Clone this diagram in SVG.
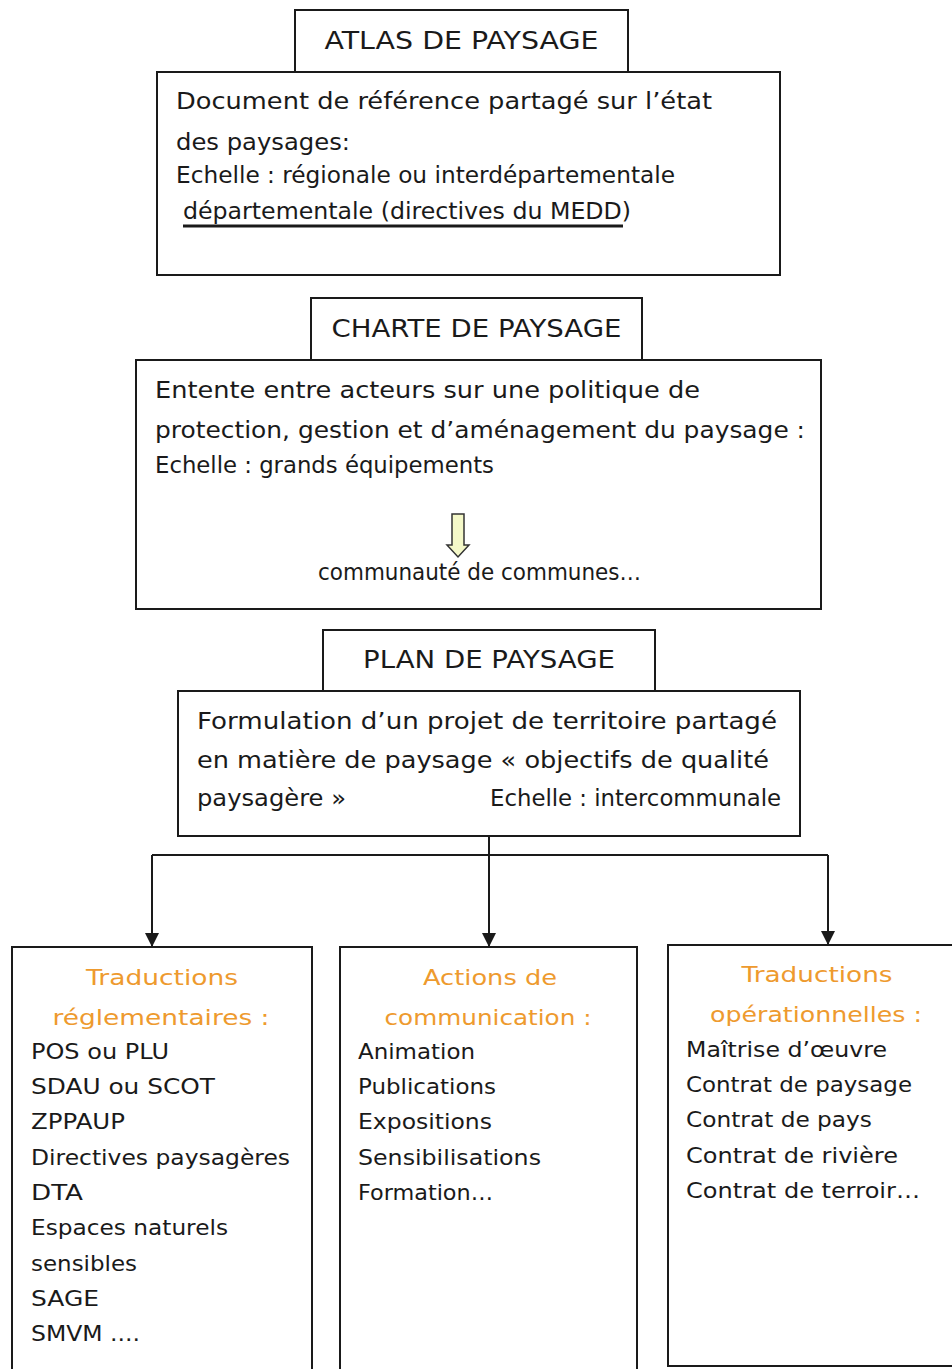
<svg xmlns="http://www.w3.org/2000/svg" width="952" height="1369" viewBox="0 0 952 1369">
<style>
.box{fill:#fff;stroke:#1a1a1a;stroke-width:2}
.t{font-family:"DejaVu Sans","Open Sans",sans-serif;fill:#1a1a1a}
.title{font-size:24px}
.body{font-size:23px}
.cond{font-family:"DejaVu Sans Condensed","DejaVu Sans",sans-serif;font-size:23px;fill:#1a1a1a}
.item{font-size:22px}
.head{font-size:22px;fill:#EE9A2E}
.conn{stroke:#1a1a1a;stroke-width:2;fill:none}
</style>
<defs>
<marker id="ah" viewBox="0 0 10 10" refX="10" refY="5" markerWidth="8" markerHeight="8" markerUnits="userSpaceOnUse" orient="auto">
<path d="M0,0 L10,5 L0,10 z" fill="#1a1a1a"/>
</marker>
<marker id="ah2" viewBox="0 0 14 14" refX="14" refY="7" markerWidth="14" markerHeight="14" markerUnits="userSpaceOnUse" orient="auto">
<path d="M0,0 L14,7 L0,14 z" fill="#1a1a1a"/>
</marker>
</defs>
<rect width="952" height="1369" fill="#fff"/>

<g id="atlas">
<rect class="box" x="157" y="72" width="623" height="203"/>
<rect class="box" x="295" y="10" width="333" height="62"/>
<text class="t title" x="461.5" y="49" text-anchor="middle" textLength="274" lengthAdjust="spacingAndGlyphs">ATLAS DE PAYSAGE</text>
<text class="t body" x="176" y="109" textLength="536" lengthAdjust="spacingAndGlyphs">Document de référence partagé sur l’état</text>
<text class="t body" x="176" y="150" textLength="174" lengthAdjust="spacingAndGlyphs">des paysages:</text>
<text class="cond" x="176" y="183" textLength="499" lengthAdjust="spacingAndGlyphs">Echelle : régionale ou interdépartementale</text>
<text class="cond" x="183" y="219" textLength="448" lengthAdjust="spacingAndGlyphs">départementale (directives du MEDD)</text>
<line x1="183" y1="226" x2="623" y2="226" stroke="#1a1a1a" stroke-width="3"/>
</g>

<g id="charte">
<rect class="box" x="136" y="360" width="685" height="249"/>
<rect class="box" x="311" y="298" width="331" height="62"/>
<text class="t title" x="476.5" y="337" text-anchor="middle" textLength="290" lengthAdjust="spacingAndGlyphs">CHARTE DE PAYSAGE</text>
<text class="t body" x="155" y="398" textLength="545" lengthAdjust="spacingAndGlyphs">Entente entre acteurs sur une politique de</text>
<text class="t body" x="155" y="438" textLength="650" lengthAdjust="spacingAndGlyphs">protection, gestion et d’aménagement du paysage :</text>
<text class="cond" x="155" y="473" textLength="339" lengthAdjust="spacingAndGlyphs">Echelle : grands équipements</text>
<path d="M452,514 L464,514 L464,545 L469,545 L458,557 L447,545 L452,545 Z" fill="#F4F8C8" stroke="#333" stroke-width="1.5"/>
<text class="cond" x="318" y="580" textLength="323" lengthAdjust="spacingAndGlyphs">communauté de communes…</text>
</g>

<g id="plan">
<rect class="box" x="178" y="691" width="622" height="145"/>
<rect class="box" x="323" y="630" width="332" height="61"/>
<text class="t title" x="489" y="668" text-anchor="middle" textLength="252" lengthAdjust="spacingAndGlyphs">PLAN DE PAYSAGE</text>
<text class="t body" x="197" y="729" textLength="580" lengthAdjust="spacingAndGlyphs">Formulation d’un projet de territoire partagé</text>
<text class="t body" x="197" y="768" textLength="572" lengthAdjust="spacingAndGlyphs">en matière de paysage « objectifs de qualité</text>
<text class="t body" x="197" y="806" textLength="149" lengthAdjust="spacingAndGlyphs">paysagère »</text>
<text class="cond" x="490" y="806" textLength="291" lengthAdjust="spacingAndGlyphs">Echelle : intercommunale</text>
</g>

<g id="connectors">
<line class="conn" x1="489" y1="836" x2="489" y2="855"/>
<line class="conn" x1="152" y1="855" x2="828" y2="855"/>
<line class="conn" x1="152" y1="855" x2="152" y2="947" marker-end="url(#ah2)"/>
<line class="conn" x1="489" y1="855" x2="489" y2="947" marker-end="url(#ah2)"/>
<line class="conn" x1="828" y1="855" x2="828" y2="945" marker-end="url(#ah2)"/>
</g>

<g id="reglementaires">
<path class="box" d="M12,1370 L12,947 L312,947 L312,1370"/>
<text class="t head" x="162" y="985" text-anchor="middle" textLength="152" lengthAdjust="spacingAndGlyphs">Traductions</text>
<text class="t head" x="161" y="1025" text-anchor="middle" textLength="217" lengthAdjust="spacingAndGlyphs">réglementaires  :</text>
<text class="t item" x="31" y="1059" textLength="138" lengthAdjust="spacingAndGlyphs">POS ou PLU</text>
<text class="t item" x="31" y="1094" textLength="184" lengthAdjust="spacingAndGlyphs">SDAU ou SCOT</text>
<text class="t item" x="31" y="1129" textLength="94" lengthAdjust="spacingAndGlyphs">ZPPAUP</text>
<text class="t item" x="31" y="1165" textLength="259" lengthAdjust="spacingAndGlyphs">Directives paysagères</text>
<text class="t item" x="31" y="1200" textLength="52" lengthAdjust="spacingAndGlyphs">DTA</text>
<text class="t item" x="31" y="1235" textLength="197" lengthAdjust="spacingAndGlyphs">Espaces naturels</text>
<text class="t item" x="31" y="1271" textLength="106" lengthAdjust="spacingAndGlyphs">sensibles</text>
<text class="t item" x="31" y="1306" textLength="68" lengthAdjust="spacingAndGlyphs">SAGE</text>
<text class="t item" x="31" y="1341" textLength="109" lengthAdjust="spacingAndGlyphs">SMVM ....</text>
</g>

<g id="communication">
<path class="box" d="M340,1370 L340,947 L637,947 L637,1370"/>
<text class="t head" x="490" y="985" text-anchor="middle" textLength="134" lengthAdjust="spacingAndGlyphs">Actions de</text>
<text class="t head" x="488" y="1025" text-anchor="middle" textLength="207" lengthAdjust="spacingAndGlyphs">communication  :</text>
<text class="t item" x="358" y="1059" textLength="117" lengthAdjust="spacingAndGlyphs">Animation</text>
<text class="t item" x="358" y="1094" textLength="138" lengthAdjust="spacingAndGlyphs">Publications</text>
<text class="t item" x="358" y="1129" textLength="134" lengthAdjust="spacingAndGlyphs">Expositions</text>
<text class="t item" x="358" y="1165" textLength="183" lengthAdjust="spacingAndGlyphs">Sensibilisations</text>
<text class="t item" x="358" y="1200" textLength="135" lengthAdjust="spacingAndGlyphs">Formation…</text>
</g>

<g id="operationnelles">
<path class="box" d="M955,945 L668,945 L668,1366 L955,1366"/>
<text class="t head" x="817" y="982" text-anchor="middle" textLength="151" lengthAdjust="spacingAndGlyphs">Traductions</text>
<text class="t head" x="816" y="1022" text-anchor="middle" textLength="212" lengthAdjust="spacingAndGlyphs">opérationnelles :</text>
<text class="t item" x="686" y="1057" textLength="201" lengthAdjust="spacingAndGlyphs">Maîtrise d’œuvre</text>
<text class="t item" x="686" y="1092" textLength="226" lengthAdjust="spacingAndGlyphs">Contrat de paysage</text>
<text class="t item" x="686" y="1127" textLength="186" lengthAdjust="spacingAndGlyphs">Contrat de pays</text>
<text class="t item" x="686" y="1163" textLength="212" lengthAdjust="spacingAndGlyphs">Contrat de rivière</text>
<text class="t item" x="686" y="1198" textLength="234" lengthAdjust="spacingAndGlyphs">Contrat de terroir…</text>
</g>
</svg>
